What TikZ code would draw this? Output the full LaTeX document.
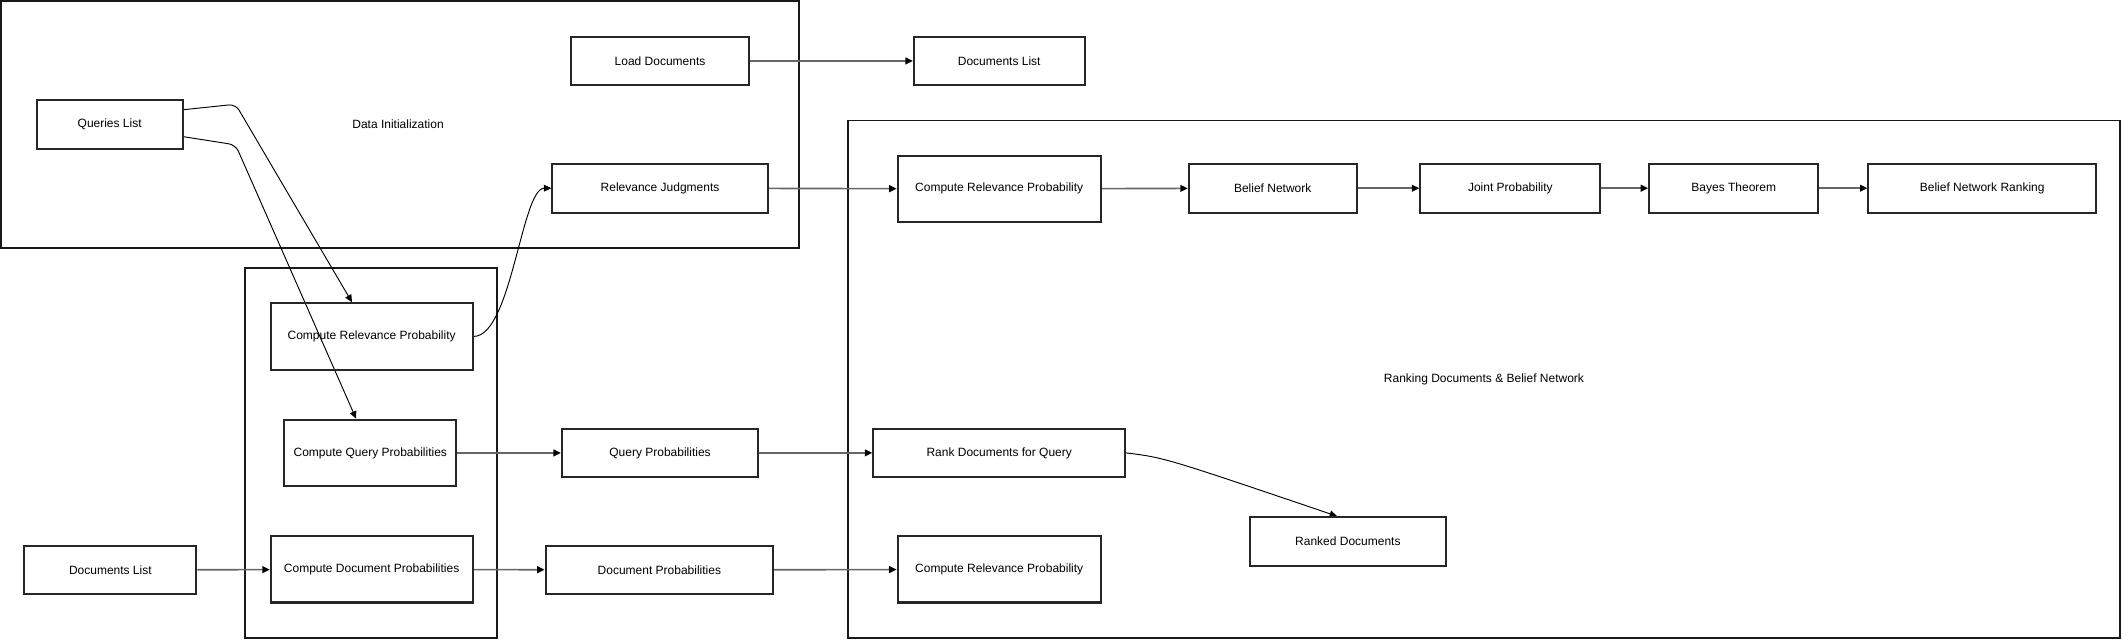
\documentclass[tikz,border=0pt]{standalone}
\usepackage{fontspec}
\setmainfont{Liberation Sans}
\usetikzlibrary{arrows.meta,calc,backgrounds}
\begin{document}
\begin{tikzpicture}[x=1pt,y=-1pt,
  box/.style={draw=black!85,line width=1.5pt,inner sep=0pt,align=center,
    font=\fontsize{8.86}{10}\selectfont},
  cluster/.style={draw=black!90,line width=1.4pt},
  lbl/.style={font=\fontsize{8.86}{10}\selectfont},
  tip/.style={-{Triangle[length=5.5pt,width=5pt,color=black]}},
  flow/.style={tip,draw=black!60,line width=1.2pt},
  curve/.style={tip,draw=black,line width=0.7pt}]
\useasboundingbox (0,0) rectangle (1568,473);
% nodes
\node[box,minimum width=131,minimum height=36] (ld) at (487.5,45) {Load Documents};
\node[box,minimum width=126,minimum height=36] (dlt) at (738,45) {Documents List};
\node[box,minimum width=108,minimum height=36] (ql) at (81,92) {Queries List};
\node[box,minimum width=159,minimum height=36] (rj) at (487.5,139) {Relevance Judgments};
\node[box,minimum width=149,minimum height=49] (crpL) at (274.5,248.5) {Compute Relevance Probability};
\node[box,minimum width=127,minimum height=49] (cqp) at (273.5,334.5) {Compute Query Probabilities};
\node[box,minimum width=149,minimum height=49] (cdp) at (274.5,420.5) {Compute Document Probabilities};
\node[box,minimum width=127,minimum height=36] (dlb) at (81.5,421) {Documents List};
\node[box,minimum width=145,minimum height=36] (qp) at (487.5,334.5) {Query Probabilities};
\node[box,minimum width=168,minimum height=36] (dp) at (487,421) {Document Probabilities};
\node[box,minimum width=150,minimum height=49] (crpT) at (738,139.5) {Compute Relevance Probability};
\node[box,minimum width=124,minimum height=36] (bn) at (940,139) {Belief Network};
\node[box,minimum width=133,minimum height=36] (jp) at (1115.5,139) {Joint Probability};
\node[box,minimum width=125,minimum height=36] (bt) at (1280.5,139) {Bayes Theorem};
\node[box,minimum width=168,minimum height=36] (bnr) at (1464,139) {Belief Network Ranking};
\node[box,minimum width=186,minimum height=36] (rdq) at (738,334.5) {Rank Documents for Query};
\node[box,minimum width=145,minimum height=36] (rd) at (995.5,400) {Ranked Documents};
\node[box,minimum width=150,minimum height=49] (crpB) at (738,420.5) {Compute Relevance Probability};
\node[lbl] (lc1) at (294,92) {Data Initialization};
\node[lbl] (lc3) at (1096,280) {Ranking Documents \& Belief Network};
\begin{scope}[on background layer]
% clusters
\draw[cluster] (1,1) rectangle (590,183);
\draw[cluster] (181,198) rectangle (367,471);
\draw[cluster] (626,89) rectangle (1566,471);
% straight flows
\draw[flow] (ld) -- (dlt);
\draw[flow] (rj) -- (crpT);
\draw[flow] (crpT) -- (bn);
\draw[flow] (bn) -- (jp);
\draw[flow] (jp) -- (bt);
\draw[flow] (bt) -- (bnr);
\draw[flow] (cqp) -- (qp);
\draw[flow] (qp) -- (rdq);
\draw[flow] (dlb) -- (cdp);
\draw[flow] (cdp) -- (dp);
\draw[flow] (dp) -- (crpB);
% curved flows
\draw[curve,rounded corners=5pt] ($(ql.east)+(0,-11)$) -- (174,77) -- ($(crpL.north)+(-14.5,0)$);
\draw[curve,rounded corners=5pt] ($(ql.east)+(0,9)$) -- (174,107) -- ($(cqp.north)+(-10.5,0)$);
\draw[curve] (crpL.east) .. controls +(28,0) and +(-22,0) .. (rj.west);
\draw[curve] (rdq.east) .. controls (860,338) .. ($(rd.north)+(-8,0)$);
\end{scope}
\end{tikzpicture}
\end{document}
